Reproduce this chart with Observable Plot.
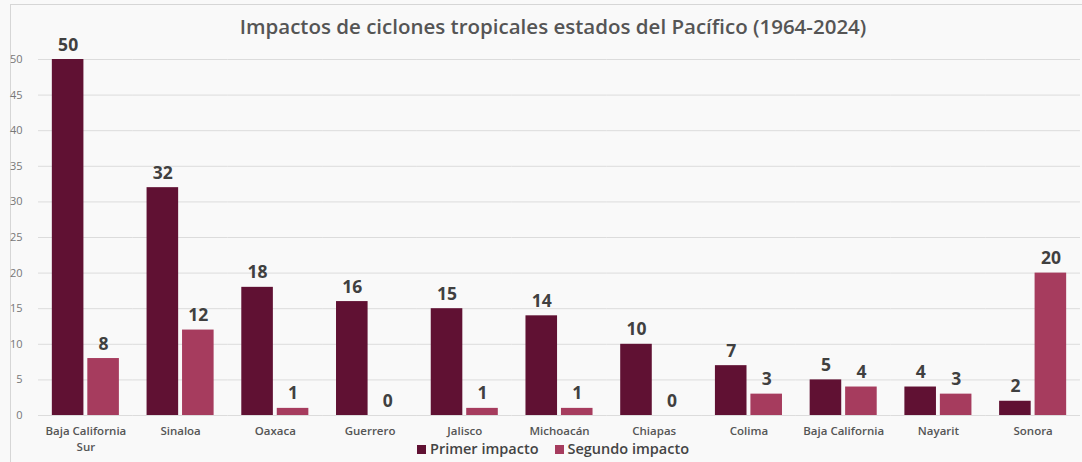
<!DOCTYPE html>
<html>
<head>
<meta charset="utf-8">
<script src="https://cdn.jsdelivr.net/npm/d3@7"></script>
<script src="https://cdn.jsdelivr.net/npm/@observablehq/plot@0.6"></script>
<style>
  html, body { margin: 0; padding: 0; background: #f9f9f9; }
  #wrap { position: relative; width: 1082px; height: 462px; overflow: hidden; font-family: "Open Sans", sans-serif; background: #f9f9f9; }
  #frame { position: absolute; left: 10px; top: 4px; width: 1100px; height: 500px; border-top: 1px solid #d6d6d6; border-left: 1px solid #d6d6d6; }
  #title { position: absolute; left: 0; width: 1106px; top: 12px; text-align: center; font-size: 20.5px; font-weight: 600; color: #555; }
  #chart { position: absolute; left: 0; top: 0; }
  #legend { position: absolute; left: 0; width: 1106px; top: 439px; text-align: center; font-size: 14.5px; font-weight: 600; color: #444; }
  #legend span.item { margin: 0 8px; }
  #legend span.sw { display: inline-block; width: 9px; height: 9px; margin-right: 4px; }
</style>
</head>
<body>
<div id="wrap">
  <div id="frame"></div>
  <div id="chart"></div>
  <div id="title">Impactos de ciclones tropicales estados del Pacífico (1964-2024)</div>
  <div id="legend"></div>
</div>
<script>
const states = ["Baja California Sur", "Sinaloa", "Oaxaca", "Guerrero", "Jalisco", "Michoacán", "Chiapas", "Colima", "Baja California", "Nayarit", "Sonora"];
const primerImpacto = [50, 32, 18, 16, 15, 14, 10, 7, 5, 4, 2];
const segundoImpacto = [8, 12, 1, 0, 1, 1, 0, 3, 4, 3, 20];
const seriesNames = ["Primer impacto", "Segundo impacto"];
const seriesColors = ["#601133", "#a63c5e"];
const yTicks = [0, 5, 10, 15, 20, 25, 30, 35, 40, 45, 50];

const data = [];
states.forEach((s, i) => {
  data.push({state: s, series: seriesNames[0], value: primerImpacto[i]});
  data.push({state: s, series: seriesNames[1], value: segundoImpacto[i]});
});

const chart = Plot.plot({
  width: 1082,
  height: 455,
  marginLeft: 38,
  marginRight: 2,
  marginTop: 59,
  marginBottom: 40,
  style: {fontFamily: "Open Sans, sans-serif", background: "transparent", overflow: "visible"},
  fx: {domain: states, padding: 0, round: false, label: null, axis: null},
  x: {domain: seriesNames, paddingInner: 0.11, paddingOuter: 0.39, round: false, axis: null},
  y: {domain: [0, 50], axis: null},
  color: {domain: seriesNames, range: seriesColors},
  marks: [
    Plot.ruleY(yTicks, {stroke: "#dcdcdc", strokeWidth: 1}),
    Plot.axisY({ticks: yTicks, tickSize: 0, tickPadding: 16, fontSize: 11, fill: "#777", label: null, anchor: "left"}),
    Plot.barY(data, {fx: "state", x: "series", y: "value", fill: "series"}),
    Plot.text(data, {fx: "state", x: "series", y: "value", text: d => String(d.value), lineAnchor: "bottom", dy: -9, fontSize: 17.5, fontWeight: 700, fill: "#404040"}),
    Plot.axisFx({domain: states, anchor: "bottom", tickSize: 0, tickPadding: 8, fontSize: 11.5, fontWeight: 600, fill: "#555", label: null, lineHeight: 1.4,
      tickFormat: d => d === "Baja California Sur" ? "Baja California\nSur" : d})
  ]
});
document.getElementById("chart").appendChild(chart);

const legend = document.getElementById("legend");
seriesNames.forEach((name, i) => {
  const item = document.createElement("span");
  item.className = "item";
  const sw = document.createElement("span");
  sw.className = "sw";
  sw.style.background = seriesColors[i];
  item.appendChild(sw);
  item.appendChild(document.createTextNode(name));
  legend.appendChild(item);
});
</script>
</body>
</html>
